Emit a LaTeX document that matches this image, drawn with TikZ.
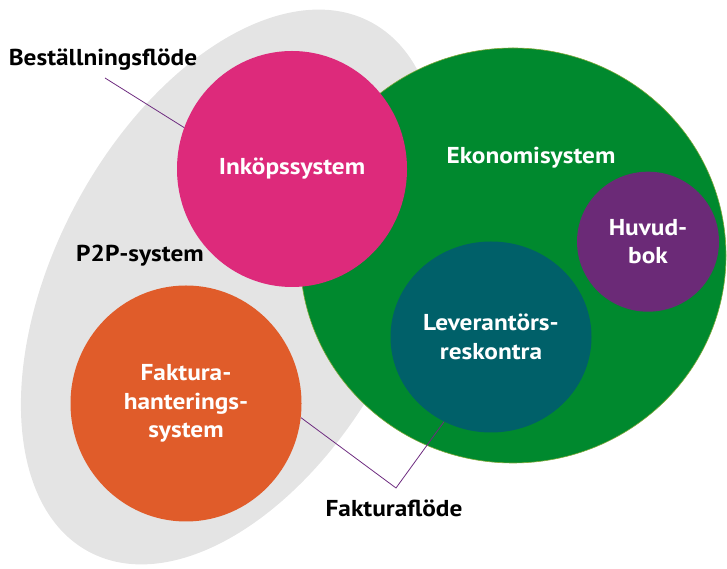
\documentclass[tikz,border=0pt]{standalone}
\usepackage{fontspec}
\setmainfont[FakeStretch=1.1]{PT Sans}
\usetikzlibrary{shapes.geometric}
\definecolor{pgray}{HTML}{E4E4E4}
\definecolor{egreen}{HTML}{00892E}
\definecolor{egedge}{HTML}{7FA838}
\definecolor{ipink}{HTML}{DD2A7B}
\definecolor{forange}{HTML}{E05C2A}
\definecolor{lteal}{HTML}{006069}
\definecolor{hpurple}{HTML}{6B2A77}
\definecolor{flow}{HTML}{6E2C80}
\tikzset{
  blob/.style={ellipse, inner sep=0pt, align=center, text=white,
    font=\bfseries\fontsize{23}{28.5}\selectfont},
  lbl/.style={inner sep=0pt, align=center, font=\bfseries\fontsize{23}{28.5}\selectfont},
  flowline/.style={draw=flow, line width=0.8pt}
}
\begin{document}
\begin{tikzpicture}[x=1pt,y=1pt]
\useasboundingbox (0,0) rectangle (727,569);
\clip (0,0) rectangle (727,569);
% P2P ellipse
\node[ellipse, inner sep=0pt, fill=pgray, rotate=62, minimum width=600pt, minimum height=350pt] (p2p) at (230,282) {};
% Ekonomisystem
\node[ellipse, inner sep=0pt, fill=egreen, draw=egedge, line width=0.6pt, minimum width=426pt, minimum height=415pt] (eko) at (513,313.5) {};
% Inner circles
\node[blob, fill=ipink, minimum width=230pt, minimum height=236pt] (ink) at (292,400) {Inköpssystem};
\node[blob, fill=forange, minimum width=231pt, minimum height=236pt] (fak) at (186,165.5) {Faktura-\\hanterings-\\system};
\node[blob, fill=lteal, minimum width=201pt, minimum height=191pt] (lev) at (491,232) {Leverantörs-\\reskontra};
\node[blob, fill=hpurple, minimum width=142pt, minimum height=140pt] (huv) at (648,327.3) {Huvud-\\bok};
% Labels
\node[lbl, text=white] (ekolbl) at (531,411) {Ekonomisystem};
\node[lbl] (p2plbl) at (140,313) {P2P-system};
\node[lbl] (beslbl) at (103,509) {Beställningsflöde};
\node[lbl] (fflbl) at (394,61) {Fakturaflöde};
% Connectors
\coordinate (bstart) at (105,491);
\coordinate (fcorner) at (396,81);
\draw[flowline] (bstart) -- (ink.159);
\draw[flowline] (fak.-7.6) -- (fcorner) -- (lev.241.9);
\end{tikzpicture}
\end{document}
